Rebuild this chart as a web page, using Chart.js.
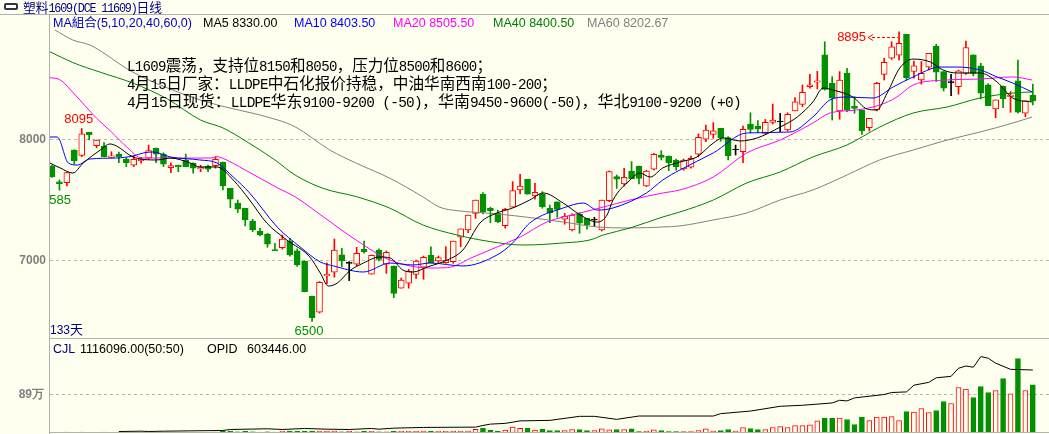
<!DOCTYPE html>
<html>
<head>
<meta charset="utf-8">
<script src="https://cdn.jsdelivr.net/npm/chart.js@4.4.0/dist/chart.umd.min.js"></script>
<style>
html, body { margin: 0; padding: 0; background: #FFFFF0; }
#wrap { position: relative; width: 1049px; height: 434px; overflow: hidden; background: #FFFFF0;
        font-family: 'Liberation Sans', 'Noto Sans CJK SC', sans-serif; }
.abs { position: absolute; white-space: nowrap; }
#priceCv { position: absolute; left: 0; top: 15px; }
#volCv { position: absolute; left: 0; top: 339px; }
.line { position: absolute; background: #B0B0B0; }
.hdr { top: 16px; font-size: 12.5px; line-height: 14px; }
.note { left: 127px; font-family: 'Noto Sans CJK SC', sans-serif; font-size: 16px; line-height: 18px; color: #000;
        transform-origin: left top; }
.note .lat { font-family: 'Liberation Mono', monospace; font-size: 14.5px; letter-spacing: -0.7px; }
.title { left: 23px; top: 0; font-family: 'Noto Sans CJK SC', sans-serif; font-size: 13px; line-height: 13px; color: #000080;
         transform-origin: left top; }
.title .lat { font-family: 'Liberation Mono', monospace; font-size: 12px; letter-spacing: -1.2px; }
.icon { position: absolute; left: 4px; top: 3px; width: 10px; height: 3px; border: 2px solid #303050; border-radius: 2px; }
</style>
</head>
<body>
<div id="wrap">
  <canvas id="priceCv" width="1049" height="323"></canvas>
  <canvas id="volCv" width="1049" height="95"></canvas>

  <div class="line" style="left:0;top:14px;width:1049px;height:1px;"></div>
  <div class="line" style="left:49px;top:14px;width:1px;height:420px;"></div>
  <div class="line" style="left:49px;top:338px;width:1000px;height:1px;"></div>
  <div class="line" style="left:49px;top:432px;width:1000px;height:1px;"></div>

  <div class="icon"></div>
  <div class="abs title" id="title"></div>

  <div class="abs hdr" style="left:53px;color:#0000C0;">MA組合(5,10,20,40,60,0)</div>
  <div class="abs hdr" style="left:203px;color:#000000;">MA5 8330.00</div>
  <div class="abs hdr" style="left:294px;color:#0000FF;">MA10 8403.50</div>
  <div class="abs hdr" style="left:393px;color:#FF00FF;">MA20 8505.50</div>
  <div class="abs hdr" style="left:493px;color:#008000;">MA40 8400.50</div>
  <div class="abs hdr" style="left:587px;color:#808080;">MA60 8202.67</div>

  <div class="abs note" id="note1" style="top:55px;"></div>
  <div class="abs note" id="note2" style="top:73px;"></div>
  <div class="abs note" id="note3" style="top:91px;"></div>

  <div class="abs" style="left:50px;top:322px;font-size:12px;line-height:14px;color:#000080;">133<span style="font-family:'Noto Sans CJK SC';font-size:13px;">天</span></div>

  <div class="abs" style="left:53px;top:342px;font-size:12.5px;line-height:14px;color:#000080;">CJL</div>
  <div class="abs" style="left:80px;top:342px;font-size:12.5px;line-height:14px;color:#000;">1116096.00(50:50)</div>
  <div class="abs" style="left:207px;top:342px;font-size:12.5px;line-height:14px;color:#000;">OPID</div>
  <div class="abs" style="left:247px;top:342px;font-size:12.5px;line-height:14px;color:#000;">603446.00</div>
</div>

<script>
// daily candles (133 days)
const opens = [7785,7655,7647,7917,7873,8064,7953,7950,7855,7884,
  7843,7791,7830,7849,7934,7882,7771,7793,7835,7808,
  7760,7785,7788,7818,7600,7477,7436,7330,7248,7223,
  7095,7110,7165,7085,7000,6711,6577,6876,6907,7050,
  6980,6973,7097,6891,7091,6973,6959,6775,6816,6890,
  6948,7047,7000,6987,6994,7196,7256,7394,7551,7436,
  7394,7292,7445,7587,7675,7537,7552,7436,7490,7345,
  7256,7386,7353,7339,7256,7499,7697,7636,7744,7785,
  7620,7758,7876,7868,7835,7760,7775,7882,8006,8047,
  8097,8019,7917,7903,8132,8116,8055,8146,8149,8083,
  8240,8295,8441,8477,8703,8469,8240,8551,8281,8248,
  8102,8248,8543,8676,8702,8874,8566,8496,8601,8777,
  8565,8474,8441,8551,8703,8614,8455,8256,8446,8358,
  8488,8221,8372];

const highs = [7790,7670,7735,7920,8095,8064,8000,7978,7903,7900,
  7855,7868,7857,7958,7934,7895,7812,7793,7884,7812,
  7791,7793,7862,7818,7600,7504,7436,7345,7270,7229,
  7146,7215,7188,7100,7000,6711,6830,6985,7182,7105,
  6995,7113,7165,7050,7100,7083,6959,6860,6931,7008,
  7041,7118,7041,7118,7165,7265,7380,7504,7565,7445,
  7420,7436,7656,7716,7675,7642,7573,7463,7490,7394,
  7390,7400,7353,7361,7504,7745,7711,7766,7821,7785,
  7750,7890,7912,7868,7843,7843,7868,8050,8124,8143,
  8097,8028,7958,8116,8225,8160,8170,8297,8220,8225,
  8350,8455,8543,8567,8812,8523,8565,8593,8358,8248,
  8179,8477,8676,8812,8895,8874,8653,8648,8716,8791,
  8565,8543,8578,8818,8703,8634,8465,8331,8446,8400,
  8661,8323,8462];

const lows = [7690,7585,7620,7800,7862,8000,7935,7860,7855,7812,
  7780,7780,7808,7840,7812,7780,7730,7738,7780,7726,
  7738,7738,7767,7587,7440,7400,7290,7243,7207,7113,
  7086,7098,7040,6955,6745,6500,6570,6810,6866,6953,
  6838,6960,7064,6890,7000,6898,6697,6775,6775,6857,
  6849,6987,6981,6981,6981,7118,7235,7353,7389,7317,
  7317,7271,7445,7554,7552,7510,7436,7317,7362,7304,
  7248,7229,7263,7284,7248,7490,7600,7620,7679,7636,
  7615,7750,7835,7747,7750,7750,7767,7860,7986,8014,
  7990,7835,7876,7812,8060,8060,8050,8132,8069,8075,
  8240,8275,8428,8422,8413,8165,8171,8234,8221,8047,
  8074,8240,8496,8666,8661,8496,8510,8461,8579,8483,
  8405,8366,8378,8543,8530,8339,8284,8184,8268,8229,
  8221,8193,8290];

const closes = [7694,7640,7730,7829,8050,8041,8000,7862,7870,7862,
  7812,7840,7840,7912,7882,7800,7788,7780,7780,7767,
  7774,7758,7840,7622,7510,7428,7340,7257,7215,7140,
  7086,7182,7050,6967,6747,6531,6824,6890,7091,7003,
  6980,7064,7074,7047,7014,7072,6733,6843,6917,7000,
  7031,6987,7028,7008,7165,7265,7380,7504,7408,7416,
  7326,7427,7581,7620,7552,7568,7450,7400,7427,7372,
  7380,7312,7298,7339,7504,7738,7676,7692,7679,7683,
  7744,7882,7857,7812,7780,7835,7849,8022,8083,8075,
  8019,7870,7917,8088,8088,8091,8146,8165,8149,8212,
  8316,8394,8455,8488,8419,8345,8496,8248,8262,8074,
  8179,8469,8642,8771,8799,8516,8612,8551,8716,8560,
  8428,8474,8571,8763,8551,8386,8284,8331,8339,8372,
  8229,8323,8323];

// volume (CJL)
const volumes = [6000,5000,7000,6000,9000,5000,6000,7000,5000,6000,
  7000,6000,5000,8000,6000,7000,6000,5000,7000,6000,
  5000,6000,8000,30000,30000,15000,30000,14000,12000,15000,
  12000,30000,32000,30000,33000,32000,30000,30000,32000,16000,
  30000,16000,30000,30000,15000,16000,32000,30000,30000,30000,
  32000,30000,30000,30000,32000,30000,32000,77000,100000,54000,
  30000,54000,124000,95000,95000,55000,78000,47000,47000,47000,
  70000,70000,47000,47000,86000,60000,70000,70000,86000,23000,
  35000,60000,47000,23000,23000,23000,23000,47000,86000,35000,
  47000,70000,35000,117000,94000,70000,70000,117000,140000,117000,
  164000,164000,180000,273000,336000,336000,336000,304000,187000,359000,
  281000,359000,359000,375000,281000,492000,476000,562000,468000,515000,
  726000,679000,1054000,1015000,820000,1077000,937000,984000,1265000,906000,
  1733000,984000,1116096];

// open interest (OPID), [day, value]
const oiPts = [[9,9700],[12,12700],[13,9700],[15,12700],[23,19500],[24,29000],[29,36000],[31,29000],
  [34,39000],[37,32000],[40,29000],[43,39000],[44,32000],[46,42000],[50,49000],[57,52000],[58,68000],
  [59,81000],[61,88000],[63,112000],[67,117000],[71,156000],[73,156000],[76,127000],[79,159000],
  [89,159000],[90,182000],[94,207000],[98,253000],[101,263000],[105,285000],[106,311000],[107,305000],
  [108,334000],[112,367000],[113,386000],[115,392000],[116,457000],[118,484000],[119,528000],
  [121,542000],[122,620000],[123,642000],[124,630000],[125,733000],[126,717000],[127,669000],
  [129,610000],[132,603446]];

// moving averages, [day, value]
const ma5Pts = [[-0.3,7810],[1.1,7769],[2.8,7727],[4.2,7810],[6.5,7917],[7.8,7967],[8.7,7950],[10.9,7860],
  [14.1,7835],[15.9,7851],[18.6,7810],[19.9,7777],[22.2,7777],[24.4,7669],[26.6,7504],[28.9,7314],
  [31.6,7174],[34.7,7033],[36.1,6901],[37.2,6793],[38.4,6818],[40.1,6920],[41.9,6983],[44.1,7033],
  [45.5,7025],[47.2,6926],[48.6,6909],[50.5,6950],[53.2,7008],[55.3,7091],[57.6,7314],[59.9,7397],
  [62,7438],[64.3,7504],[66.1,7562],[68.8,7479],[71.1,7380],[73.4,7322],[74.7,7380],[75.5,7504],
  [77.8,7669],[79.1,7727],[80.5,7694],[82.2,7769],[84.5,7818],[86.8,7860],[89,7975],[90.3,8017],
  [92.6,7992],[94.9,8017],[98,8107],[100.3,8190],[102.4,8314],[103.8,8430],[105.1,8413],[107.8,8355],
  [109.7,8256],[111,8248],[112.4,8388],[114.1,8595],[115.9,8669],[118.2,8645],[119.9,8579],
  [121.8,8554],[124.9,8554],[127.2,8479],[129.3,8347],[131.9,8314]];
const ma10Pts = [[-0.3,8025],[0.7,8025],[2.2,7810],[3.4,7793],[5.1,7843],[8.7,7851],[10.9,7868],[12.3,7893],
  [13.6,7901],[15.9,7860],[19.9,7835],[22.2,7810],[24.4,7694],[26.6,7562],[30.3,7281],[33.4,7116],
  [36.1,6992],[37.9,6959],[41.9,6909],[45.5,6983],[48.6,6967],[50.9,6983],[55.3,6959],[59.9,7050],
  [62,7149],[64.3,7314],[68.8,7438],[71.5,7479],[73.4,7421],[75.5,7438],[80,7562],[82.2,7669],
  [84.5,7752],[89,7893],[93.5,8058],[99.3,8066],[102.4,8190],[104.7,8331],[107,8355],[110.5,8347],
  [113.2,8438],[115.9,8521],[119.5,8603],[121.8,8603],[124.9,8579],[127.2,8521],[129.3,8471],[131.9,8397]];
const ma20Pts = [[-0.3,8515],[1,8500],[3,8380],[6,8180],[8,8066],[10.2,7934],[12.1,7851],[13.9,7851],
  [21.5,7851],[22.2,7862],[22.9,7851],[26,7752],[30.4,7603],[32.7,7531],[36.5,7366],[41,7170],
  [45.5,7008],[50.9,6942],[53.2,6945],[56.7,7033],[59.9,7116],[63,7198],[66.6,7322],[71.1,7397],
  [74.2,7446],[77.8,7504],[82.2,7562],[84.5,7587],[89,7694],[93.5,7893],[98,8000],[102.4,8140],
  [104.7,8223],[108.3,8248],[111.4,8289],[113.7,8355],[115.9,8455],[120.5,8496],[124.9,8504],
  [129.3,8521],[131.9,8496]];
const ma40Pts = [[-0.3,8730],[2.8,8640],[6.5,8560],[10.9,8470],[15.5,8340],[20,8165],[23,8100],[26.5,7975],
  [30,7835],[32.7,7711],[36.5,7600],[41,7531],[45.5,7436],[49.9,7298],[54.5,7215],[59,7160],
  [63.4,7132],[68.8,7149],[72.4,7174],[74.2,7215],[77.8,7273],[82.2,7364],[84.5,7405],[89,7504],
  [93.5,7645],[98,7736],[102.4,7860],[107,7959],[111.4,8107],[115.9,8223],[120.5,8273],[124.9,8347],
  [129.3,8388],[131.9,8397]];
const ma60Pts = [[0.4,8909],[2.8,8826],[5.1,8785],[10.9,8560],[20,8330],[30.4,8165],[32.7,8110],[37.4,7917],
  [41,7807],[45.5,7683],[49.9,7531],[52.2,7444],[54.5,7416],[59,7394],[63.4,7366],[68.8,7322],
  [73.4,7281],[77.8,7273],[82.2,7281],[84.5,7290],[89,7339],[93.5,7397],[98,7504],[102.4,7587],
  [107,7711],[111.4,7835],[115.9,7917],[120.5,8000],[124.9,8066],[129.3,8140],[131.9,8190]];

const priceTicks = [7000, 8000];
const volTicks = [890000];
const volTickLabels = ['89万'];

const notes = [
  'L1609震荡，支持位8150和8050，压力位8500和8600；',
  '4月15日厂家：LLDPE中石化报价持稳，中油华南西南100-200；',
  '4月15日现货：LLDPE华东9100-9200 (-50)，华南9450-9600(-50)，华北9100-9200 (+0)'
];
const noteWidths = [365, 430, 614];
const titleText = '塑料1609(DCE 11609)日线';
const titleWidth = 139;

const RED = '#FF0000', GREEN = '#009000', BG = '#FFFFF0';

function mixText(s) {
  return s.replace(/[\x20-\x7e]+/g, m => '<span class="lat">' + m.replace(/ /g, '&nbsp;') + '</span>');
}
const titleEl = document.getElementById('title');
titleEl.innerHTML = mixText(titleText);
notes.forEach((t, k) => { document.getElementById('note' + (k + 1)).innerHTML = mixText(t); });

function fitWidth(el, target) {
  el.style.transform = 'none';
  const w = el.getBoundingClientRect().width;
  if (w > 0) el.style.transform = 'scaleX(' + (target / w) + ')';
}
function fitTexts() {
  fitWidth(titleEl, titleWidth);
  notes.forEach((t, k) => fitWidth(document.getElementById('note' + (k + 1)), noteWidths[k]));
}
fitTexts();
if (document.fonts && document.fonts.ready) document.fonts.ready.then(fitTexts);

const days = opens.map((_, i) => i);
const lineColor = days.map(i => closes[i] === opens[i] ? '#000000' : (closes[i] > opens[i] ? RED : GREEN));
const bodyFill = days.map(i => closes[i] === opens[i] ? '#000000' : (closes[i] > opens[i] ? BG : GREEN));
const volLine = days.map(i => closes[i] >= opens[i] ? RED : GREEN);
const volFill = days.map(i => closes[i] >= opens[i] ? BG : GREEN);

const X_MIN = -0.27, X_MAX = 134.18;

function fixAxis(width) {
  return function (scale) {
    scale.width = width;
    scale.paddingTop = 0;
    scale.paddingBottom = 0;
  };
}

function maLine(pts, color, order) {
  return { type: 'line', data: pts, borderColor: color, borderWidth: 1, pointRadius: 0,
           cubicInterpolationMode: 'monotone', order: order };
}

const markPlugin = {
  id: 'marks',
  afterDatasetsDraw(chart) {
    const { ctx, chartArea: a, scales: { x, y } } = chart;
    ctx.save();
    ctx.beginPath();
    ctx.rect(a.left, a.top, a.right - a.left, a.bottom - a.top);
    ctx.clip();
    ctx.font = '13px "Liberation Sans"';
    ctx.textBaseline = 'middle';
    ctx.textAlign = 'center';
    ctx.fillStyle = RED;
    ctx.fillText(String(highs[4]), x.getPixelForValue(4) - 3, y.getPixelForValue(highs[4]) - 9);
    ctx.fillStyle = GREEN;
    [1, 35].forEach(i => {
      ctx.fillText(String(lows[i]), x.getPixelForValue(i) - 3, y.getPixelForValue(lows[i]) + 10);
    });
    // peak label with dashed arrow
    const px = x.getPixelForValue(114), py = Math.round(y.getPixelForValue(highs[114]) + 5);
    ctx.fillStyle = RED;
    ctx.textAlign = 'right';
    ctx.fillText(String(highs[114]), px - 33, py + 0.5);
    ctx.strokeStyle = RED;
    ctx.lineWidth = 1;
    ctx.setLineDash([3, 2]);
    ctx.beginPath();
    ctx.moveTo(px - 27, py + 0.5);
    ctx.lineTo(px - 1, py + 0.5);
    ctx.stroke();
    ctx.setLineDash([]);
    ctx.beginPath();
    ctx.moveTo(px - 26, py - 2.5);
    ctx.lineTo(px - 31, py + 0.5);
    ctx.lineTo(px - 26, py + 3.5);
    ctx.stroke();
    ctx.restore();
  }
};

new Chart(document.getElementById('priceCv'), {
  type: 'bar',
  data: {
    datasets: [
      { label: 'wick', data: days.map(i => ({ x: i, y: [lows[i], highs[i]] })),
        backgroundColor: lineColor, borderWidth: 0, barThickness: 1, grouped: false, order: 20 },
      { label: 'body', data: days.map(i => ({ x: i, y: [opens[i], closes[i]] })),
        backgroundColor: bodyFill, borderColor: lineColor, borderWidth: 1, borderSkipped: false,
        barThickness: 6, minBarLength: 1, grouped: false, order: 19 },
      maLine(ma60Pts, '#808080', 5),
      maLine(ma40Pts, '#008000', 4),
      maLine(ma20Pts, '#FF00FF', 3),
      maLine(ma10Pts, '#0000FF', 2),
      maLine(ma5Pts, '#000000', 1)
    ]
  },
  options: {
    responsive: false, animation: false, devicePixelRatio: 1,
    layout: { padding: 0 },
    plugins: { legend: { display: false }, tooltip: { enabled: false } },
    scales: {
      x: { type: 'linear', min: X_MIN, max: X_MAX, display: false, offset: false },
      y: {
        min: 6363.6, max: 9033.06,
        afterBuildTicks: s => { s.ticks = priceTicks.map(v => ({ value: v })); },
        afterFit: fixAxis(50),
        ticks: { callback: v => String(v), padding: 4, color: '#808080',
                 font: { family: 'Liberation Sans', size: 12, weight: 'bold' } },
        grid: { color: '#B8B8B8', drawTicks: false },
        border: { display: false, dash: [3, 3] }
      }
    }
  },
  plugins: [markPlugin]
});

new Chart(document.getElementById('volCv'), {
  type: 'bar',
  data: {
    datasets: [
      { label: 'CJL', data: days.map(i => ({ x: i, y: volumes[i] })), yAxisID: 'y',
        backgroundColor: volFill, borderColor: volLine, borderWidth: 1, barThickness: 5,
        grouped: false, order: 2 },
      { type: 'line', label: 'OPID', data: oiPts, yAxisID: 'y2', borderColor: '#000000',
        borderWidth: 1, pointRadius: 0, tension: 0, order: 1 }
    ]
  },
  options: {
    responsive: false, animation: false, devicePixelRatio: 1,
    layout: { padding: { top: 1, bottom: 1.5, left: 0, right: 0 } },
    plugins: { legend: { display: false }, tooltip: { enabled: false } },
    scales: {
      x: { type: 'linear', min: X_MIN, max: X_MAX, display: false, offset: false },
      y: {
        min: 0, max: 2166000,
        afterBuildTicks: s => { s.ticks = volTicks.map(v => ({ value: v })); },
        afterFit: fixAxis(50),
        ticks: { callback: (v, k) => volTickLabels[k], padding: 6, color: '#808080',
                 font: { family: 'Liberation Sans', size: 12, weight: 'bold' } },
        grid: { color: '#B8B8B8', drawTicks: false },
        border: { display: false, dash: [3, 3] }
      },
      y2: { min: 0, max: 893000, display: false }
    }
  }
});
</script>
</body>
</html>
